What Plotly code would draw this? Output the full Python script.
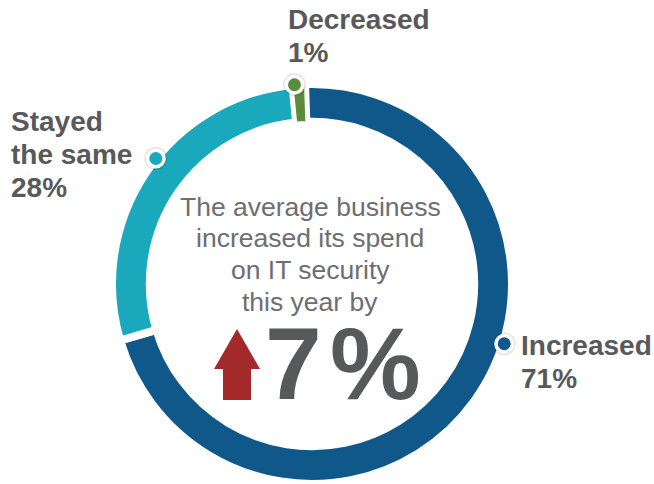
import math
import plotly.graph_objects as go

# Survey shares: change in IT security spend
categories = ["Increased", "Stayed the same", "Decreased"]
shares = [71, 28, 1]
colors = ["#11588a", "#1aa9bc", "#5a8c3b"]
label_lines = [["Increased", "71%"], ["Stayed", "the same", "28%"], ["Decreased", "1%"]]
average_increase = 7

W, H = 654, 484
CX, CY = 312, 285          # ring centre in pixels
R_OUT = 201                # outer radius incl. white separator stroke
GAP = 8                    # separator width

TEXT_DARK = "#58595b"
TEXT_MID = "#6d6e71"
FONT = "Liberation Sans, Arial, Helvetica, sans-serif"


def px(x):
    return x / W


def py(y):
    return 1 - y / H


fig = go.Figure()

fig.add_trace(go.Pie(
    labels=categories,
    values=shares,
    marker=dict(colors=colors, line=dict(color="white", width=[GAP, GAP, 2])),
    hole=(R_OUT - GAP - 30) / R_OUT,
    sort=False,
    direction="clockwise",
    rotation=-2,
    textinfo="none",
    hoverinfo="label+percent",
    showlegend=False,
    domain=dict(x=[px(CX - R_OUT), px(CX + R_OUT)], y=[max(0, py(CY + R_OUT)), py(CY - R_OUT)]),
))

shapes = []
annotations = []

# Callout dots on the ring, one per category
dot_angles = [107, 309, 355]
dot_radius = 201
for ang, col in zip(dot_angles, colors):
    mx = CX + dot_radius * math.sin(math.radians(ang))
    my = CY - dot_radius * math.cos(math.radians(ang))
    for r, fill, op in [(11.5, "#000000", 0.10), (10, "white", 1), (6.5, col, 1)]:
        shapes.append(dict(type="circle", xref="paper", yref="paper", layer="above",
                           x0=px(mx - r), x1=px(mx + r), y0=py(my + r), y1=py(my - r),
                           fillcolor=fill, opacity=op, line=dict(width=0)))


def add_line(text, x, baseline, size, color, bold=False, anchor="left"):
    annotations.append(dict(
        text=f"<b>{text}</b>" if bold else text,
        x=px(x), y=py(baseline - 0.35 * size), xref="paper", yref="paper",
        xanchor=anchor, yanchor="middle", showarrow=False, borderpad=0,
        font=dict(family=FONT, size=size, color=color),
    ))


# Category labels
label_pos = [(520, 355), (10, 131), (287, 29)]
for lines, (lx, lb) in zip(label_lines, label_pos):
    for i, t in enumerate(lines):
        add_line(t, lx, lb + i * 33, 28, TEXT_DARK, bold=True)

# Centre message
centre_lines = ["The average business", "increased its spend", "on IT security", "this year by"]
for i, t in enumerate(centre_lines):
    add_line(t, 310, 216 + i * 31.7, 26.5, TEXT_MID, anchor="center")

# Headline figure, digit and percent sign set slightly apart
add_line(f"{average_increase}", 264, 400, 102, TEXT_DARK, bold=True)
add_line("%", 329, 400, 102, TEXT_DARK, bold=True)

# Red up arrow
arrow = [(237, 329), (260, 369), (251, 369), (251, 400), (223, 400), (223, 369), (214, 369)]
path = "M " + " L ".join(f"{px(x)},{py(y)}" for x, y in arrow) + " Z"
shapes.append(dict(type="path", xref="paper", yref="paper", path=path,
                   fillcolor="#a3292b", line=dict(width=0), layer="above"))

fig.update_layout(
    width=W, height=H,
    margin=dict(l=0, r=0, t=0, b=0),
    paper_bgcolor="white", plot_bgcolor="white",
    shapes=shapes, annotations=annotations,
)

fig.write_html("out.html")
